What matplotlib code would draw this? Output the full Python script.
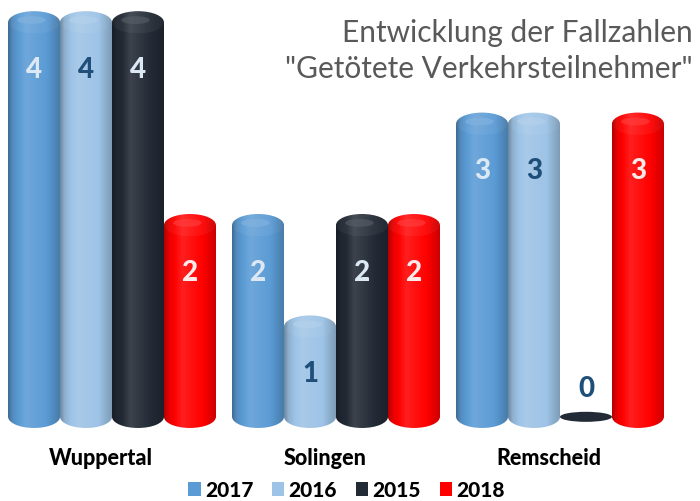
import matplotlib.pyplot as plt
import numpy as np
from matplotlib.patches import Ellipse, Patch
from matplotlib.colors import to_rgb

plt.rcParams['font.family'] = ['Lato', 'DejaVu Sans']

# data
cities = ["Wuppertal", "Solingen", "Remscheid"]
years = ["2017", "2016", "2015", "2018"]
values = {
    "2017": [4, 2, 3],
    "2016": [4, 1, 3],
    "2015": [4, 2, 0],
    "2018": [2, 2, 3],
}
bar_colors = {"2017": "#5b9bd5", "2016": "#9dc3e6", "2015": "#222a35", "2018": "#ff0000"}
label_colors = {"2017": "#dce8f4", "2016": "#1f4e79", "2015": "#dce8f4", "2018": "#fde9e9"}
title_lines = ["Entwicklung der Fallzahlen", '"Getötete Verkehrsteilnehmer"']


def shade(c, f):
    c = np.array(to_rgb(c))
    if f < 1:
        return c * f
    return c + (1 - c) * (f - 1)


def gradient(c):
    # dark left edge, light strip left of center, darker right edge
    xs = np.linspace(0, 1, 60)
    f = np.interp(xs, [0, 0.08, 0.35, 0.75, 1.0], [0.7, 0.9, 1.12, 1.0, 0.8])
    return np.array([shade(c, v) for v in f])[None, :, :]


fig = plt.figure(figsize=(7, 5.02), dpi=100)
ax = fig.add_axes([0, 0, 1, 1])
ax.set_xlim(-0.5, 2.625)
ax.set_ylim(-0.83, 4.12)
ax.axis('off')

w = 0.232
cap = 0.22
offsets = (np.arange(len(years)) - 1.5) * w
x = np.arange(len(cities))

for k, yr in enumerate(years):
    col = bar_colors[yr]
    grad = gradient(col)
    for i, v in enumerate(values[yr]):
        xc = x[i] + offsets[k]
        if v == 0:
            ax.add_patch(Ellipse((xc, 0), w, cap * 0.45, facecolor=col, edgecolor='none'))
            ax.text(xc, 0.28, "0", ha='center', va='center', fontsize=20,
                    fontweight='black', color=label_colors["2016"])
            continue
        top = v - cap / 2
        body = ax.bar(xc, top, width=w, color='none', edgecolor='none')[0]
        bot = Ellipse((xc, 0), w, cap, facecolor='none', edgecolor='none')
        ax.add_patch(bot)
        im = ax.imshow(grad, extent=(xc - w / 2, xc + w / 2, 0, top), aspect='auto', zorder=2)
        im.set_clip_path(body)
        im2 = ax.imshow(grad, extent=(xc - w / 2, xc + w / 2, -cap / 2, 0), aspect='auto', zorder=2)
        im2.set_clip_path(bot)
        # top cap
        capp = Ellipse((xc, top), w, cap, facecolor='none', edgecolor='none')
        ax.add_patch(capp)
        im3 = ax.imshow(gradient(shade(col, 1.05)), extent=(xc - w / 2, xc + w / 2, top - cap / 2, v),
                        aspect='auto', zorder=3)
        im3.set_clip_path(capp)
        ax.add_patch(Ellipse((xc - w * 0.05, top + cap * 0.1), w * 0.55, cap * 0.35,
                             facecolor=shade(col, 1.25), edgecolor='none', alpha=0.6, zorder=4))
        ax.text(xc, v - 0.57, str(v), ha='center', va='center', fontsize=20,
                fontweight='black', color=label_colors[yr], zorder=5)

for i, c in enumerate(cities):
    ax.text(x[i] - 0.05, -0.4, c, ha='center', va='center', fontsize=15.5,
            fontweight='black', color='black')

fig.text(0.99, 0.935, title_lines[0], ha='right', va='center', fontsize=21.5, color='#595959')
fig.text(0.99, 0.862, title_lines[1], ha='right', va='center', fontsize=21.5, color='#595959')

handles = [Patch(facecolor=bar_colors[y], edgecolor='none') for y in years]
leg = fig.legend(handles, years, loc='center', bbox_to_anchor=(0.495, 0.022), ncol=4,
                 frameon=False, handlelength=0.6, handleheight=0.6, handletextpad=0.2,
                 columnspacing=0.9, prop={'weight': 'black', 'size': 15})

fig.savefig("out.png", dpi=100)
